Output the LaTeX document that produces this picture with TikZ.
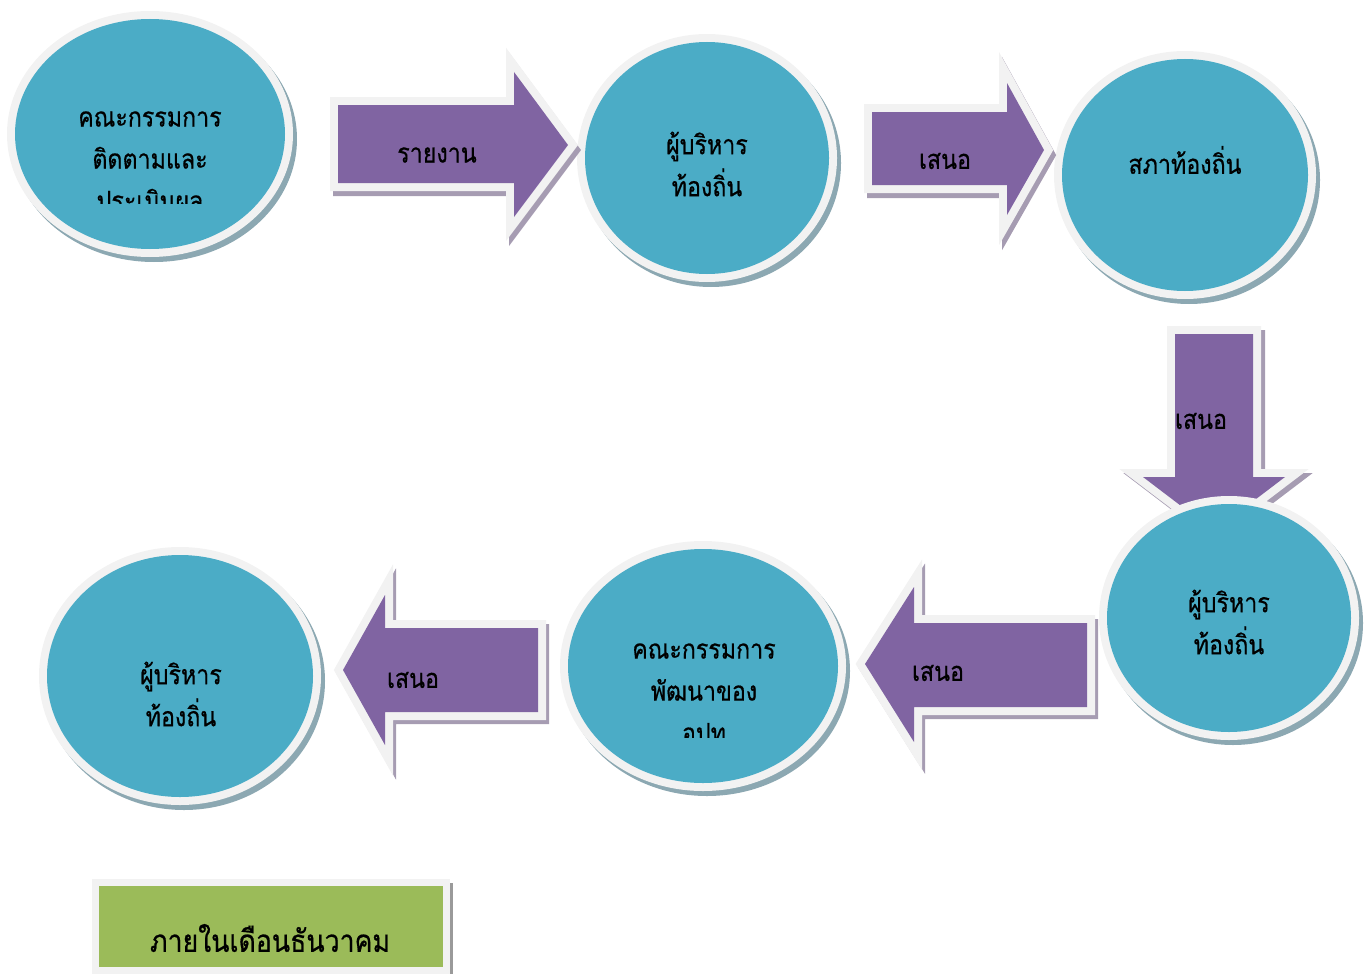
\documentclass[tikz,border=0pt]{standalone}
\usepackage{fontspec}
\newfontfamily\thaifont[Script=Thai, FakeStretch=0.86, FakeBold=0.6]{Loma}
\usetikzlibrary{shapes.geometric}
\definecolor{bubfill}{HTML}{4BACC6}
\definecolor{arrfill}{HTML}{8064A2}
\definecolor{grnfill}{HTML}{9BBB59}
\definecolor{rim}{HTML}{F2F2F2}
\definecolor{bubshadow}{HTML}{8CA8B2}
\definecolor{arrshadow}{HTML}{A69CB2}
\definecolor{grnshadow}{HTML}{9A9A9A}
\tikzset{
  bubble/.style={ellipse, fill=bubfill, draw=none, inner sep=0pt},
  bubrim/.style={fill=rim},
  bubshade/.style={fill=bubshadow},
  arrbody/.style={fill=arrfill},
  arrrim/.style={fill=rim, draw=rim, line width=16pt, line join=miter},
  arrshade/.style={fill=arrshadow, draw=arrshadow, line width=16pt, line join=miter},
  txt/.style={font=\thaifont\fontsize{27}{42}\selectfont, align=center, text=black, inner sep=0pt},
  bigtxt/.style={font=\thaifont\fontsize{31}{42}\selectfont, align=center, text=black, inner sep=0pt},
  greenbox/.style={rectangle, fill=grnfill, draw=none, inner sep=0pt},
}
\begin{document}
\begin{tikzpicture}[x=1pt,y=-1pt]
\useasboundingbox (0,0) rectangle (1368,974);

% ---------- arrow 3 (down), under ellipse 4
\path[arrshade] ([shift={(4,4)}]1175,334) -- ++(78,0) -- ++(0,143) -- ++(32,0) -- ++(-71,54) -- ++(-71,-54) -- ++(32,0) -- cycle;
\path[arrrim] (1175,334) -- (1253,334) -- (1253,477) -- (1285,477) -- (1214,531) -- (1143,477) -- (1175,477) -- cycle;
\fill[arrbody] (1175,334) -- (1253,334) -- (1253,477) -- (1285,477) -- (1214,531) -- (1143,477) -- (1175,477) -- cycle;
\node[txt] (l3) at (1201,421) {เสนอ};

% ---------- ellipses
\foreach \cx/\cy/\rx/\ry/\nm in {150/134/135/115/e1, 707/158/122/116/e2, 1185/175/123/116/e3, 1229/618/122/114/e4, 703/666/135/117/e5, 180/676/133/121/e6}{
  \fill[bubshade] (\cx+4,\cy+5) ellipse [x radius=\rx pt+8pt, y radius=\ry pt+8pt];
  \fill[bubrim] (\cx,\cy) ellipse [x radius=\rx pt+8pt, y radius=\ry pt+8pt];
  \node[bubble, minimum width=2*\rx pt, minimum height=2*\ry pt] (\nm) at (\cx,\cy) {};
}

% ellipse texts
\begin{scope}
  \clip (0,0) rectangle (1368,203);
  \node[txt] (t1) at (150,161) {คณะกรรมการ\\ติดตามและ\\ประเมินผล};
\end{scope}
\node[txt] (t2) at (707,164) {ผู้บริหาร\\ท้องถิ่น};
\node[txt] (t3) at (1185,160) {สภาท้องถิ่น};
\node[txt] (t4) at (1229,622) {ผู้บริหาร\\ท้องถิ่น};
\begin{scope}
  \clip (0,0) rectangle (1368,737);
  \node[txt] (t5) at (704,693) {คณะกรรมการ\\พัฒนาของ\\อปท};
\end{scope}
\node[txt] (t6) at (181,694) {ผู้บริหาร\\ท้องถิ่น};

% ---------- arrow 1 (right)
\path[arrshade] ([shift={(3,5)}]338,105) -- ++(176,0) -- ++(0,-33) -- ++(54,73) -- ++(-54,72) -- ++(0,-34) -- ++(-176,0) -- cycle;
\path[arrrim] (338,105) -- (514,105) -- (514,72) -- (568,145) -- (514,217) -- (514,183) -- (338,183) -- cycle;
\fill[arrbody] (338,105) -- (514,105) -- (514,72) -- (568,145) -- (514,217) -- (514,183) -- (338,183) -- cycle;
\node[txt] (l1) at (437,155) {รายงาน};

% ---------- arrow 2 (right)
\path[arrshade] ([shift={(3,5)}]872,112) -- ++(135,0) -- ++(0,-29) -- ++(37,67) -- ++(-37,65) -- ++(0,-30) -- ++(-135,0) -- cycle;
\path[arrrim] (872,112) -- (1007,112) -- (1007,83) -- (1044,150) -- (1007,215) -- (1007,185) -- (872,185) -- cycle;
\fill[arrbody] (872,112) -- (1007,112) -- (1007,83) -- (1044,150) -- (1007,215) -- (1007,185) -- (872,185) -- cycle;
\node[txt] (l2) at (945,161) {เสนอ};

% ---------- arrow 4 (left)
\path[arrshade] ([shift={(3,4)}]1087,623) -- ++(-173,0) -- ++(0,-36) -- ++(-49,77) -- ++(49,78) -- ++(0,-35) -- ++(173,0) -- cycle;
\path[arrrim] (1087,623) -- (914,623) -- (914,587) -- (865,664) -- (914,742) -- (914,707) -- (1087,707) -- cycle;
\fill[arrbody] (1087,623) -- (914,623) -- (914,587) -- (865,664) -- (914,742) -- (914,707) -- (1087,707) -- cycle;
\node[txt] (l4) at (938,673) {เสนอ};

% ---------- arrow 5 (left)
\path[arrshade] ([shift={(3,4)}]538,628) -- ++(-153,0) -- ++(0,-33) -- ++(-42,75) -- ++(42,75) -- ++(0,-33) -- ++(153,0) -- cycle;
\path[arrrim] (538,628) -- (385,628) -- (385,595) -- (343,670) -- (385,745) -- (385,712) -- (538,712) -- cycle;
\fill[arrbody] (538,628) -- (385,628) -- (385,595) -- (343,670) -- (385,745) -- (385,712) -- (538,712) -- cycle;
\node[txt] (l5) at (413,680) {เสนอ};

% ---------- green box
\fill[grnshadow] (449,883) rectangle (453,974);
\fill[rim] (92,879) rectangle (450,974);
\node[greenbox, minimum width=344pt, minimum height=81pt] (g) at (271,926.5) {};
\node[bigtxt] (tg) at (270,938) {ภายในเดือนธันวาคม};

\end{tikzpicture}
\end{document}
